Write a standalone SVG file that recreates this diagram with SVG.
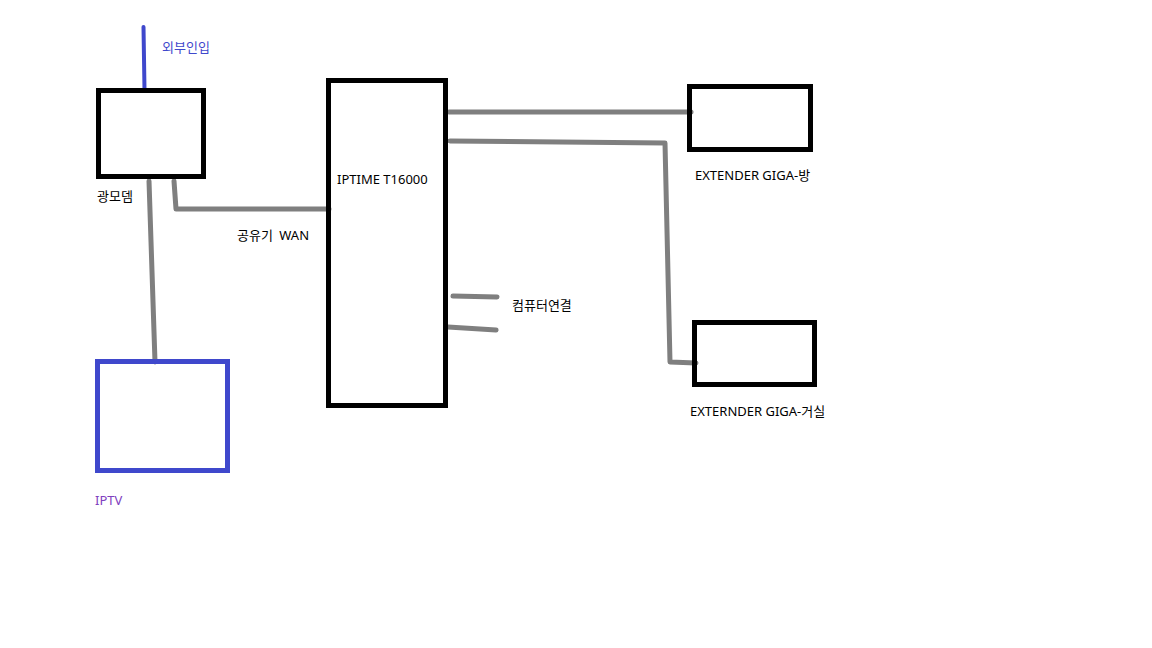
<svg xmlns="http://www.w3.org/2000/svg" width="1152" height="648" viewBox="0 0 1152 648">
<style>
.box{fill:none;stroke:#000;stroke-width:5}
.blue{fill:none;stroke:#3f48cc;stroke-width:5}
.wire{fill:none;stroke:#7f7f7f;stroke-width:5;stroke-linecap:round;stroke-linejoin:round}
text{font-family:"Noto Sans","Noto Sans CJK KR",sans-serif;font-size:13px;fill:#000}
</style>
<rect width="1152" height="648" fill="#fff"/>
<g id="connectors">
<path class="wire" d="M149,181 L155,362"/>
<path class="wire" d="M174,181 L176,209 L329,209"/>
<path class="wire" d="M449,112 L691,112"/>
<path class="wire" d="M450,141 L665,143 L670,362 L696,363"/>
<path class="wire" d="M453,296 L497,297"/>
<path class="wire" d="M448,327 L496,330"/>
<path d="M143.5,27 L144.5,90" fill="none" stroke="#3f48cc" stroke-width="4" stroke-linecap="round"/>
</g>
<g id="modem">
<rect class="box" x="98.5" y="90.5" width="105" height="86"/>
<text x="97" y="201">광모뎀</text>
</g>
<g id="external">
<text x="162" y="52" style="fill:#3f48cc">외부인입</text>
</g>
<g id="router">
<rect class="box" x="328.5" y="80.5" width="117" height="325"/>
<text x="337" y="184">IPTIME T16000</text>
<text x="237" y="240" style="word-spacing:3px">공유기 WAN</text>
</g>
<g id="computer">
<text x="512" y="310">컴퓨터연결</text>
</g>
<g id="extender1">
<rect class="box" x="689.5" y="86.5" width="121" height="63"/>
<text x="695" y="180">EXTENDER GIGA-방</text>
</g>
<g id="extender2">
<rect class="box" x="694.5" y="322.5" width="120" height="62"/>
<text x="690" y="416">EXTERNDER GIGA-거실</text>
</g>
<g id="iptv">
<rect class="blue" x="97.5" y="361.5" width="130" height="109"/>
<text x="95" y="505" style="fill:#8040c0">IPTV</text>
</g>
</svg>
